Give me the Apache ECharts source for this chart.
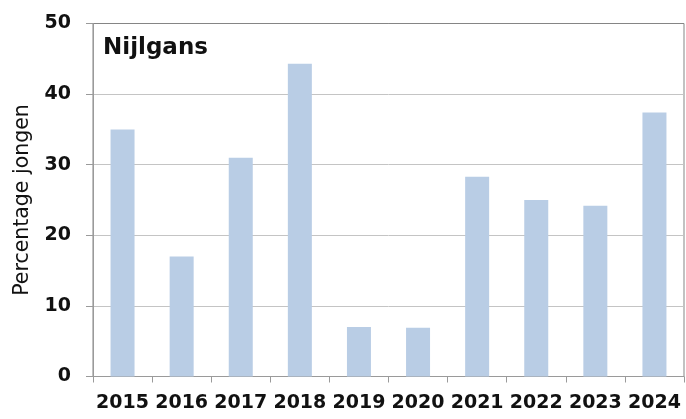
<!DOCTYPE html>
<html>
<head>
<meta charset="utf-8">
<script src="https://cdn.jsdelivr.net/npm/echarts@6/dist/echarts.min.js"></script>
<style>
  html, body { margin: 0; padding: 0; background: #fff; }
  #chart { width: 686px; height: 419px; }
</style>
</head>
<body>
<div id="chart"></div>
<script>
var years = ['2015', '2016', '2017', '2018', '2019', '2020', '2021', '2022', '2023', '2024'];
var percentJongen = [35, 17, 31, 44.3, 7, 6.9, 28.3, 25, 24.2, 37.4];
var yTicks = { min: 0, max: 50, interval: 10 };

var myChart = echarts.init(document.getElementById('chart'));
var option = {
    animation: false,
    title: {
        text: 'Nijlgans',
        left: 98,
        top: 32,
        textStyle: { fontFamily: 'DejaVu Sans', fontSize: 23, fontWeight: 'bold', color: '#111' }
    },
    grid: {
        left: 93,
        right: 2,
        top: 23.5,
        bottom: 42.5,
        show: true,
        borderColor: '#858585',
        borderWidth: 1
    },
    xAxis: {
        type: 'category',
        data: years,
        axisLine: { lineStyle: { color: '#9a9a9a', width: 1 } },
        axisTick: { show: true, length: 6, lineStyle: { color: '#9a9a9a' } },
        axisLabel: {
            margin: 17,
            fontFamily: 'DejaVu Sans',
            fontSize: 19,
            fontWeight: 'bold',
            color: '#111',
            interval: 0
        }
    },
    yAxis: {
        type: 'value',
        min: yTicks.min,
        max: yTicks.max,
        interval: yTicks.interval,
        name: 'Percentage jongen',
        nameLocation: 'middle',
        nameGap: 58,
        nameTextStyle: { fontFamily: 'DejaVu Sans', fontSize: 20.5, color: '#111' },
        axisLine: { show: true, lineStyle: { color: '#9a9a9a', width: 1 } },
        axisTick: { show: true, length: 7, lineStyle: { color: '#9a9a9a' } },
        axisLabel: {
            margin: 22,
            fontFamily: 'DejaVu Sans',
            fontSize: 19,
            fontWeight: 'bold',
            color: '#111'
        },
        splitLine: {
            show: true,
            lineStyle: {
                color: ['#9a9a9a', '#c4c4c4', '#c4c4c4', '#c4c4c4', '#c4c4c4', '#858585'],
                width: 1
            }
        }
    },
    series: [
        {
            name: 'Percentage jongen',
            type: 'bar',
            data: percentJongen,
            barWidth: 24,
            itemStyle: { color: '#b9cde5' }
        }
    ]
};
myChart.setOption(option);
</script>
</body>
</html>
